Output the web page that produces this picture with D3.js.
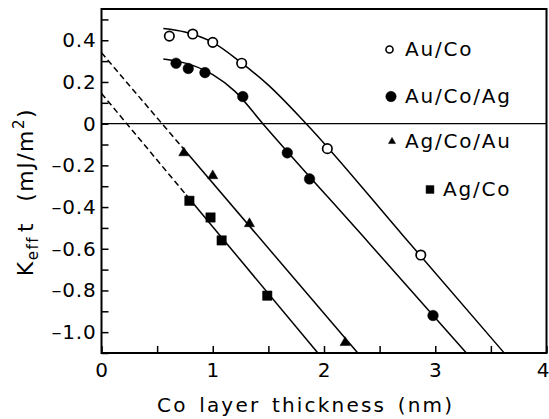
<!DOCTYPE html>
<html>
<head>
<meta charset="utf-8">
<script src="https://cdn.jsdelivr.net/npm/d3@7"></script>
<style>
  body { margin: 0; background: #fff; }
  svg { display: block; font-family: "DejaVu Sans", sans-serif; }
</style>
</head>
<body>
<script>
// measured points, [thickness nm, Keff*t mJ/m2]
const auCo = [[0.61, 0.42], [0.82, 0.43], [1.0, 0.39], [1.26, 0.29], [2.03, -0.12], [2.87, -0.63]];
const auCoAg = [[0.67, 0.29], [0.78, 0.265], [0.93, 0.245], [1.27, 0.13], [1.67, -0.14], [1.87, -0.265], [2.98, -0.92]];
const agCoAu = [[0.74, -0.14], [1.0, -0.25], [1.33, -0.48], [2.19, -1.05]];
const agCo = [[0.79, -0.37], [0.98, -0.45], [1.08, -0.56], [1.49, -0.825]];

// fitted lines
const auCoFit = [[0.556, 0.457], [0.75, 0.44], [1.0, 0.39], [1.25, 0.295], [1.5, 0.185], [1.84, 0], [2.7, -0.53], [3.62, -1.1]];
const auCoAgFit = [[0.556, 0.31], [0.8, 0.283], [1.0, 0.235], [1.2, 0.155], [1.45, 0], [2.4, -0.57], [3.28, -1.1]];
const agCoAuDashed = [[0, 0.34], [0.72, -0.11]];
const agCoAuFit = [[0.72, -0.11], [2.304, -1.1]];
const agCoDashed = [[0, 0.145], [0.76, -0.341]];
const agCoFit = [[0.76, -0.341], [1.945, -1.1]];

const xTickLabels = [0, 1, 2, 3, 4];
const yTickLabels = [-1.0, -0.8, -0.6, -0.4, -0.2, 0, 0.2, 0.4];
const legendLabels = ["Au/Co", "Au/Co/Ag", "Ag/Co/Au", "Ag/Co"];

const width = 549;
const height = 419;
const margin = { top: 9, right: 2.5, bottom: 66, left: 101.5 };

const svg = d3
  .select("body")
  .append("svg")
  .attr("width", width)
  .attr("height", height);

const x = d3.scaleLinear().domain([0, 4]).range([margin.left, width - margin.right]);
const y = d3.scaleLinear().domain([-1.1, 0.55]).range([height - margin.bottom, margin.top]);

// axes, ticks pointing inward
const xTicks = d3.range(0, 9).map((d) => d / 2);
const xAxis = svg
  .append("g")
  .attr("transform", `translate(0, ${y(-1.1)})`)
  .call(
    d3.axisBottom(x)
      .tickValues(xTicks)
      .tickSizeInner(-7)
      .tickSizeOuter(0)
      .tickPadding(10)
      .tickFormat((d) => (xTickLabels.includes(d) ? d : ""))
  );

const yTicks = d3.range(-11, 6).map((d) => d / 10);
const yAxis = svg
  .append("g")
  .attr("transform", `translate(${x(0)}, 0)`)
  .call(
    d3.axisLeft(y)
      .tickValues(yTicks)
      .tickSizeInner(-7)
      .tickSizeOuter(0)
      .tickPadding(5)
      .tickFormat((d) => {
        if (!yTickLabels.some((v) => Math.abs(v - d) < 1e-9)) return "";
        if (Math.abs(d) < 1e-9) return "0";
        return d3.format(".1f")(d).replace("−", "–");
      })
  );

[xAxis, yAxis].forEach((g) => {
  g.select(".domain").remove();
  g.selectAll(".tick line").attr("stroke", "#000").attr("stroke-width", 1.5);
  g.selectAll(".tick text")
    .attr("fill", "#000")
    .attr("font-size", 20)
    .attr("letter-spacing", 0.8)
    .attr("font-family", "DejaVu Sans, sans-serif");
});

// last label sits at the page edge, keep it inside
xAxis
  .selectAll(".tick text")
  .filter((d) => d === 4)
  .attr("text-anchor", "end")
  .attr("letter-spacing", 0)
  .attr("x", width - x(4));

// zero line
svg
  .append("line")
  .attr("x1", x(0))
  .attr("x2", x(4))
  .attr("y1", y(0))
  .attr("y2", y(0))
  .attr("stroke", "#000")
  .attr("stroke-width", 1.3);

// fits
const line = d3.line().x((d) => x(d[0])).y((d) => y(d[1]));
const curve = d3.line().x((d) => x(d[0])).y((d) => y(d[1])).curve(d3.curveMonotoneX);

[auCoFit, auCoAgFit].forEach((pts) => {
  svg.append("path").attr("d", curve(pts)).attr("fill", "none").attr("stroke", "#000").attr("stroke-width", 1.5);
});
[agCoAuFit, agCoFit].forEach((pts) => {
  svg.append("path").attr("d", line(pts)).attr("fill", "none").attr("stroke", "#000").attr("stroke-width", 1.5);
});
[agCoAuDashed, agCoDashed].forEach((pts) => {
  svg
    .append("path")
    .attr("d", line(pts))
    .attr("fill", "none")
    .attr("stroke", "#000")
    .attr("stroke-width", 1.5)
    .attr("stroke-dasharray", "6,3.5");
});

// markers
const symbols = [
  { data: auCo, type: d3.symbolCircle, size: 70, fill: "#fff", legendSize: 40 },
  { data: auCoAg, type: d3.symbolCircle, size: 88, fill: "#000", legendSize: 85 },
  { data: agCoAu, type: d3.symbolTriangle, size: 45, fill: "#000", legendSize: 22 },
  { data: agCo, type: d3.symbolSquare, size: 88, fill: "#000", legendSize: 62 },
];

symbols.forEach((s) => {
  svg
    .append("g")
    .selectAll("path")
    .data(s.data)
    .enter()
    .append("path")
    .attr("transform", (d) => `translate(${x(d[0])}, ${y(d[1])})`)
    .attr("d", d3.symbol().type(s.type).size(s.size))
    .attr("fill", s.fill)
    .attr("stroke", "#000")
    .attr("stroke-width", s.fill === "#fff" ? 1.7 : 0.5);
});

// legend
const legendLayout = [
  { mx: 389.5, tx: 405, by: 56 },
  { mx: 391, tx: 405, by: 103 },
  { mx: 392, tx: 405, by: 148 },
  { mx: 430, tx: 443, by: 196 },
];
const legend = svg.append("g");
legendLabels.forEach((label, i) => {
  const s = symbols[i];
  const l = legendLayout[i];
  legend
    .append("path")
    .attr("transform", `translate(${l.mx}, ${l.by - 6.5})`)
    .attr("d", d3.symbol().type(s.type).size(s.legendSize))
    .attr("fill", s.fill)
    .attr("stroke", "#000")
    .attr("stroke-width", s.fill === "#fff" ? 1.6 : 0.5);
  legend
    .append("text")
    .attr("x", l.tx)
    .attr("y", l.by)
    .attr("font-size", 20)
    .attr("letter-spacing", 1.8)
    .text(label);
});

// frame
svg
  .append("rect")
  .attr("x", x(0))
  .attr("y", y(0.55))
  .attr("width", x(4) - x(0))
  .attr("height", y(-1.1) - y(0.55))
  .attr("fill", "none")
  .attr("stroke", "#000")
  .attr("stroke-width", 2);

// axis titles
svg
  .append("text")
  .attr("x", 157)
  .attr("y", 412)
  .attr("font-size", 20)
  .attr("letter-spacing", 2.2)
  .attr("word-spacing", 3)
  .text("Co layer thickness (nm)");

const yTitle = svg
  .append("text")
  .attr("transform", "translate(33, 192) rotate(-90)")
  .attr("text-anchor", "middle")
  .attr("font-size", 22)
  .attr("letter-spacing", 1.5);
yTitle.append("tspan").text("K");
yTitle.append("tspan").attr("font-size", 15).attr("dy", 5).text("eff");
yTitle.append("tspan").attr("dy", -5).attr("dx", 4).text("t");
yTitle.append("tspan").attr("dx", 20).text("(mJ/m");
yTitle.append("tspan").attr("font-size", 15).attr("dy", -9).text("2");
yTitle.append("tspan").attr("dy", 9).text(")");
</script>
</body>
</html>
